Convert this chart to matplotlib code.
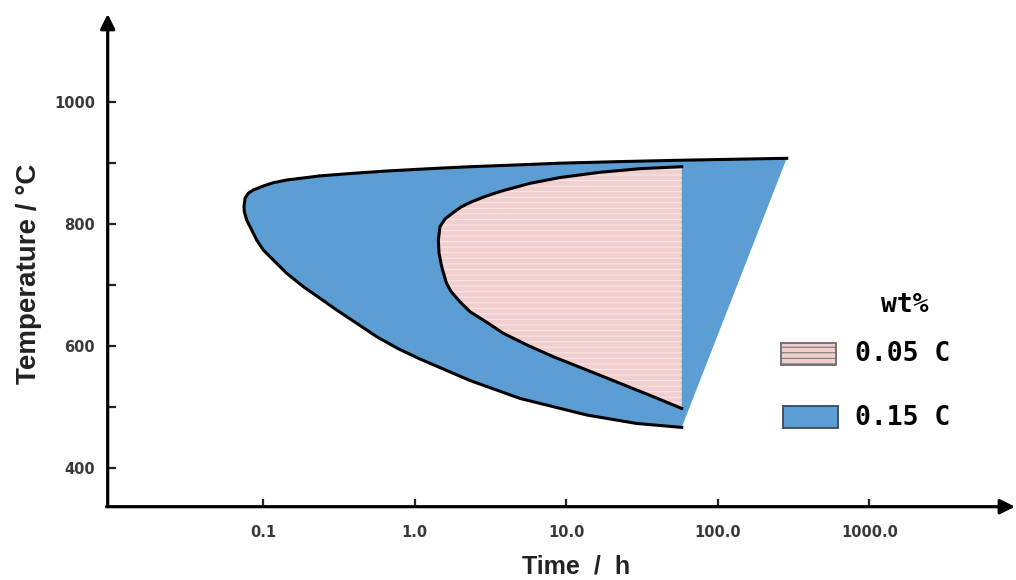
import matplotlib.pyplot as plt
from matplotlib.patches import Rectangle

# 0.15 wt% C : outer C-curve (upper branch from the right end to the nose,
# then lower branch from the nose to the bottom tip)
outer_t = [284.7, 56.3, 22.64, 9.10, 4.96, 2.319, 1.399, 0.6546, 0.394,
           0.2377, 0.1433, 0.117, 0.1005, 0.0863, 0.0800, 0.0761, 0.0749,
           0.0753, 0.078, 0.0821, 0.0908, 0.1005, 0.1112, 0.1433, 0.1845,
           0.2377, 0.306, 0.415, 0.5623, 0.777, 1.085, 2.319, 4.96, 13.65,
           29.2, 57.8]
outer_T = [907.3, 904.1, 901.9, 899.3, 896.6, 893.5, 890.9, 886.5, 882.7,
           878.5, 871.7, 867.3, 861.9, 855.4, 850.0, 841.8, 828.0,
           819.8, 806.2, 795.3, 773.5, 757.1, 746.1, 718.9, 697.0,
           678.0, 658.8, 637.0, 615.1, 595.5, 578.5, 543.3, 513.9, 486.8,
           472.9, 466.5]

# 0.05 wt% C : inner C-curve, cut off at the vertical line t = 57.8 h
inner_t = [57.8, 30.68, 16.71, 9.10, 5.77, 3.66, 2.913, 2.319, 2.024, 1.80,
           1.587, 1.47, 1.434, 1.449, 1.509, 1.62, 1.74, 1.995, 2.319, 2.99,
           3.85, 5.60, 8.22, 17.6, 37.5, 57.8]
inner_T = [893.5, 890.3, 884.4, 875.8, 866.3, 852.9, 844.7, 834.9, 827.5,
           818.5, 807.9, 795.3, 773.5, 751.7, 729.7, 703.0, 689.0, 672.0,
           656.0, 638.7, 620.6, 600.7, 582.3, 549.6, 516.8, 497.5]

x_ticks = [0.1, 1.0, 10.0, 100.0, 1000.0]
x_labels = ['0.1', '1.0', '10.0', '100.0', '1000.0']
y_major = [400, 600, 800, 1000]
y_minor = [500, 700, 900]

blue = '#5c9dd3'
pink = '#f1cfcf'

plt.rcParams['hatch.linewidth'] = 0.7

fig = plt.figure(figsize=(10.16, 5.8), dpi=100)
ax = fig.add_axes([0.106, 0.1264, 0.893, 0.8495])
ax.set_xscale('log')
ax.set_xlim(10 ** -2.0244, 10 ** 3.960)
ax.set_ylim(336.6, 1143.7)

ax.fill(outer_t, outer_T, facecolor=blue, edgecolor='none', zorder=2)
ax.fill(inner_t, inner_T, facecolor=pink, edgecolor='#f9e9e9', hatch='---',
        linewidth=0, zorder=3)
ax.plot(outer_t, outer_T, color='k', lw=2.2, solid_joinstyle='round',
        zorder=4)
ax.plot(inner_t, inner_T, color='k', lw=2.2, solid_joinstyle='round',
        zorder=4)

# axes drawn as arrows
for s in ax.spines.values():
    s.set_visible(False)
ax.annotate('', xy=(0, 1), xytext=(0, 0), xycoords='axes fraction',
            arrowprops=dict(arrowstyle='-|>', color='k', lw=2.3,
                            mutation_scale=22, shrinkA=0, shrinkB=0))
ax.annotate('', xy=(1, 0), xytext=(-0.0013, 0), xycoords='axes fraction',
            arrowprops=dict(arrowstyle='-|>', color='k', lw=2.3,
                            mutation_scale=22, shrinkA=0, shrinkB=0))

ax.set_xticks(x_ticks)
ax.set_xticklabels(x_labels)
ax.minorticks_off()
ax.set_yticks(y_major)
ax.set_yticks(y_minor, minor=True)
ax.tick_params(axis='both', which='both', direction='in', length=6,
               width=1.6, color='#222222')
ax.tick_params(axis='x', pad=13)
ax.tick_params(axis='y', pad=9)
for lab in ax.get_xticklabels() + ax.get_yticklabels():
    lab.set_fontfamily('DejaVu Sans')
    lab.set_fontweight('bold')
    lab.set_fontsize(10.5)
    lab.set_color('#3a3a3a')

fig.text(0.0285, 0.5276, 'Temperature / °C', rotation=90, ha='center',
         va='center', fontsize=20, fontweight='bold',
         family='Liberation Sans', color='#222222')
fig.text(0.567, 0.002, 'Time  /  h', ha='center', va='bottom', fontsize=18,
         fontweight='bold', family='Liberation Sans', color='#222222')

# legend
W, H = 1016.0, 580.0
fig.text(905 / W, 1 - 305 / H, 'wt%', ha='center', va='center',
         fontsize=19, fontweight='bold', family='DejaVu Sans Mono')
fig.add_artist(Rectangle((781 / W, 1 - 365 / H), 55 / W, 22 / H,
                         transform=fig.transFigure, facecolor=pink,
                         edgecolor='#6a6a6a', hatch='---', lw=1.3))
fig.add_artist(Rectangle((783 / W, 1 - 428 / H), 55 / W, 22 / H,
                         transform=fig.transFigure, facecolor=blue,
                         edgecolor='#3a4a5a', lw=1.3))
fig.text(855 / W, 1 - 354 / H, '0.05 C', ha='left', va='center',
         fontsize=19, fontweight='bold', family='DejaVu Sans Mono')
fig.text(855 / W, 1 - 418 / H, '0.15 C', ha='left', va='center',
         fontsize=19, fontweight='bold', family='DejaVu Sans Mono')

fig.savefig('out.png', dpi=100)
